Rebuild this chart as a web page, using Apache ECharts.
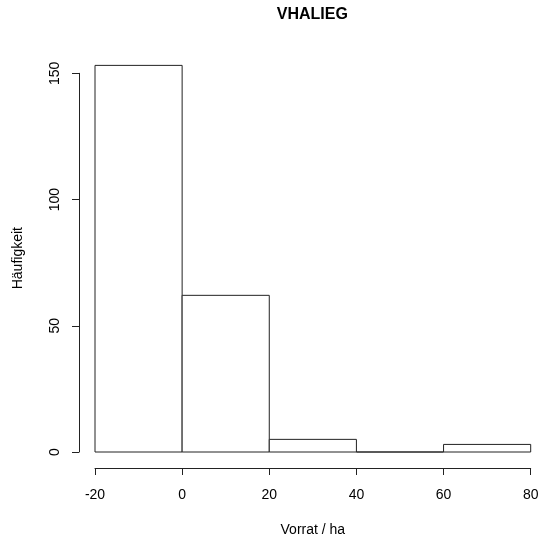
<!DOCTYPE html>
<html><head><meta charset="utf-8">
<script src="https://cdn.jsdelivr.net/npm/echarts@6/dist/echarts.min.js"></script>
<style>html,body{margin:0;padding:0;background:#fff}#c{width:542px;height:544px}</style>
</head><body><div id="c"></div>
<script>
const binStarts = [-20, 0, 20, 40, 60];
const binEnds = [0, 20, 40, 60, 80];
const counts = [153, 62, 5, 0, 3];
const xTicks = [-20, 0, 20, 40, 60, 80];
const yTicks = [0, 50, 100, 150];
const titleText = 'VHALIEG';
const xName = 'Vorrat / ha';
const yName = 'Häufigkeit';

const data = binStarts.map((s, i) => [s, binEnds[i], counts[i]]);
const font = 'Liberation Sans, Arial, sans-serif';
const chart = echarts.init(document.getElementById('c'), null, {renderer: 'canvas'});
chart.setOption({
  animation: false,
  backgroundColor: '#fff',
  graphic: [{type: 'text', x: 312.3, y: 7,
    style: {text: titleText, textAlign: 'center', textVerticalAlign: 'top',
      font: 'bold 16px Liberation Sans, Arial, sans-serif', fill: '#000'}}],
  grid: [
    {left: 95, right: 11.3, top: 47.7, bottom: 92},
    {left: 95, right: 11.3, top: 73.3, bottom: 92}
  ],
  xAxis: [
    {gridIndex: 0, type: 'value', min: xTicks[0], max: xTicks[xTicks.length - 1], interval: 20,
     offset: 16, splitLine: {show: false},
     axisLine: {show: true, onZero: false, lineStyle: {color: '#222', width: 1}},
     axisTick: {show: true, length: 7, inside: false, lineStyle: {color: '#222'}},
     axisLabel: {margin: 20, fontFamily: font, fontSize: 14, color: '#000'},
     name: xName, nameLocation: 'middle', nameGap: 55,
     nameTextStyle: {fontFamily: font, fontSize: 14, color: '#000'}},
    {gridIndex: 1, type: 'value', min: -20, max: 80, show: false}
  ],
  yAxis: [
    {gridIndex: 0, type: 'value', min: 0, max: 160, show: false},
    {gridIndex: 1, type: 'value', min: yTicks[0], max: yTicks[yTicks.length - 1], interval: 50,
     offset: 16, splitLine: {show: false},
     axisLine: {show: true, onZero: false, lineStyle: {color: '#222', width: 1}},
     axisTick: {show: true, length: 7, inside: false, lineStyle: {color: '#222'}},
     axisLabel: {rotate: 90, margin: 17, fontFamily: font, fontSize: 14, color: '#000'},
     name: yName, nameLocation: 'middle', nameGap: 54, nameRotate: 90,
     nameTextStyle: {fontFamily: font, fontSize: 14, color: '#000', padding: [0, 0, 0, 9]}}
  ],
  series: [{
    type: 'custom', xAxisIndex: 0, yAxisIndex: 0, data: data,
    renderItem: function (params, api) {
      const p0 = api.coord([api.value(0), 0]);
      const p1 = api.coord([api.value(1), api.value(2)]);
      return {type: 'rect', shape: {x: p0[0], y: p1[1], width: p1[0] - p0[0], height: p0[1] - p1[1]},
        style: {fill: '#fff', stroke: '#222', lineWidth: 1}};
    }
  }]
});
</script></body></html>
